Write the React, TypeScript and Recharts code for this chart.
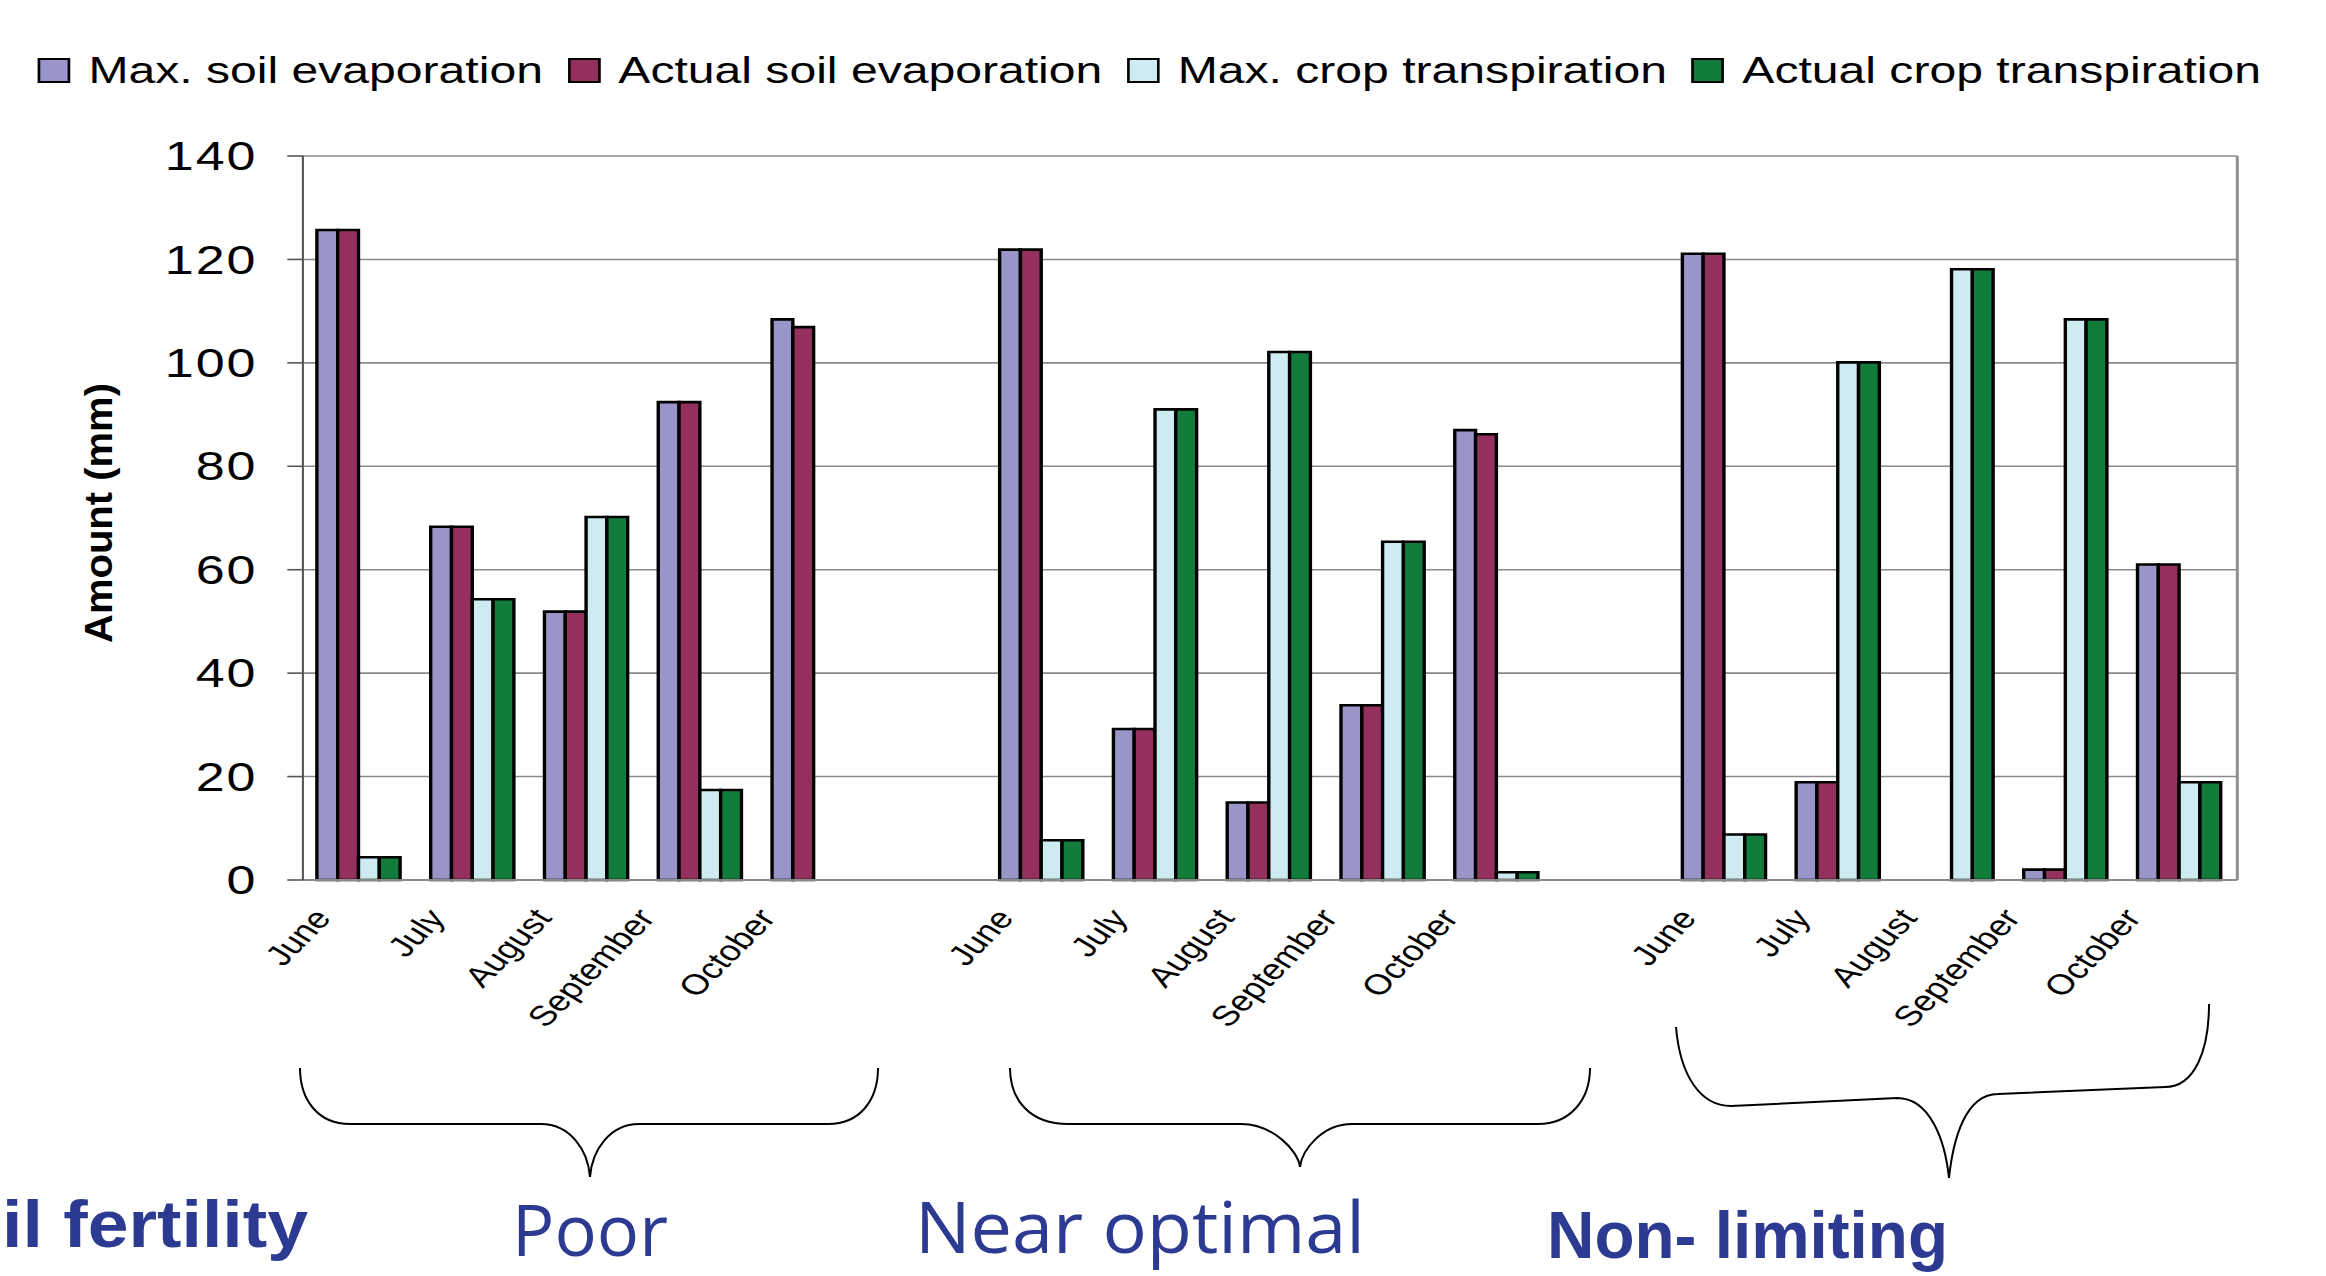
import React from "react";
import { BarChart, Bar, XAxis, YAxis, CartesianGrid, Legend } from "recharts";

// ---- data ----
const months = ["June", "July", "August", "September", "October"];
const fertilityLevels = ["Poor", "Near optimal", "Non- limiting"];
const yTicks = [0, 20, 40, 60, 80, 100, 120, 140];

// values per level: Poor (5 months), Near optimal (5 months), Non-limiting (5 months)
const maxSoilEvaporation = [125.7, 68.3, 51.9, 92.4, 108.4, 121.9, 29.2, 15.0, 33.8, 87.0, 121.1, 18.9, 0, 2.0, 61.0];
const actualSoilEvaporation = [125.7, 68.3, 51.9, 92.4, 106.9, 121.9, 29.2, 15.0, 33.8, 86.2, 121.1, 18.9, 0, 2.0, 61.0];
const maxCropTranspiration = [4.4, 54.3, 70.2, 17.4, 0, 7.7, 91.0, 102.1, 65.4, 1.5, 8.8, 100.1, 118.1, 108.4, 18.9];
const actualCropTranspiration = [4.4, 54.3, 70.2, 17.4, 0, 7.7, 91.0, 102.1, 65.4, 1.5, 8.8, 100.1, 118.1, 108.4, 18.9];

const series = [
  { key: "mse", name: "Max. soil evaporation", color: "#9995C8", values: maxSoilEvaporation },
  { key: "ase", name: "Actual soil evaporation", color: "#94305E", values: actualSoilEvaporation },
  { key: "mct", name: "Max. crop transpiration", color: "#CEEBF1", values: maxCropTranspiration },
  { key: "act", name: "Actual crop transpiration", color: "#127C3C", values: actualCropTranspiration },
];

// table for the chart: 5 months per level, one empty category between levels
const data: any[] = [];
fertilityLevels.forEach((level, g) => {
  months.forEach((m, i) => {
    const row: any = { month: m, level };
    series.forEach((s) => (row[s.key] = s.values[g * months.length + i]));
    data.push(row);
  });
  if (g < fertilityLevels.length - 1) data.push({ month: "", level: "" });
});

const STRETCH = 1.3;
const FONT = "'Liberation Sans', Arial, sans-serif";
const BLUE = "#2D3A92";

const LegendContent = () => (
  <div style={{ display: "flex", alignItems: "center", height: 60, marginLeft: 29, whiteSpace: "nowrap", fontFamily: FONT }}>
    {series.map((s) => (
      <div key={s.key} style={{ display: "flex", alignItems: "center", marginRight: 19 }}>
        <span style={{ display: "inline-block", width: 25, height: 25, background: s.color, border: "2px solid #000", boxSizing: "border-box", marginRight: 14 }} />
        <span style={{ fontSize: 37, lineHeight: "37px", color: "#000" }}>{s.name}</span>
      </div>
    ))}
  </div>
);

const MonthTick = (props: any) => {
  const { x, y, payload } = props;
  if (!payload || !payload.value) return <g />;
  const label = String(payload.value);
  const shift = 27 + Math.max(0, label.length - 4) * 2.7;
  return (
    <g transform={`translate(${x - shift},${y + 34})`}>
      <text x={0} y={0} transform="rotate(-52.4)" textAnchor="end" dominantBaseline="middle" fontSize={28.5} fill="#000" fontFamily={FONT}>
        {label}
      </text>
    </g>
  );
};

const YLabel = (props: any) => {
  const vb = props.viewBox || { x: 0, y: 156, width: 233, height: 724 };
  const cx = vb.x + 76;
  const cy = vb.y + vb.height / 2 - 5;
  return (
    <text x={cx} y={cy} transform={`rotate(-90 ${cx} ${cy})`} textAnchor="middle" dominantBaseline="central" fontSize={30} fontWeight="bold" fontFamily={FONT} fill="#000" textLength={260} lengthAdjust="spacingAndGlyphs">
      Amount (mm)
    </text>
  );
};

export default function App() {
  return (
    <div style={{ position: "absolute", left: 0, top: 0, width: 2326, height: 1276, overflow: "hidden", background: "#fff" }}>
      <div style={{ position: "absolute", left: 0, top: 0, width: 1789, height: 1070, transform: `scaleX(${STRETCH})`, transformOrigin: "0 0", fontFamily: FONT }}>
        <BarChart width={1789} height={1070} data={data} margin={{ top: 96, right: 67, bottom: 40, left: 0 }} barCategoryGap="12.3%" barGap={0}>
          <CartesianGrid horizontal vertical={false} stroke="#8a8a8a" strokeWidth={1.6} />
          <XAxis dataKey="month" interval={0} height={150} tickSize={0} tickMargin={0} tickLine={false} axisLine={{ stroke: "#8a8a8a", strokeWidth: 2 }} tick={<MonthTick />} />
          <YAxis domain={[0, 140]} ticks={yTicks} width={233} tickSize={12} tickMargin={23} axisLine={{ stroke: "#555", strokeWidth: 1.6 }} tickLine={{ stroke: "#555", strokeWidth: 1.6 }} tick={{ fontSize: 40, fill: "#000", fontFamily: FONT, letterSpacing: 1.5 }} label={YLabel} />
          <YAxis yAxisId="right" orientation="right" domain={[0, 140]} width={1} tick={false} tickLine={false} axisLine={{ stroke: "#8f8f8f", strokeWidth: 2.3 }} />
          <Legend verticalAlign="top" align="left" height={60} wrapperStyle={{ top: 40, left: 0 }} content={<LegendContent />} />
          {series.map((s) => (
            <Bar key={s.key} dataKey={s.key} name={s.name} fill={s.color} stroke="#000" strokeWidth={2.6} isAnimationActive={false} />
          ))}
        </BarChart>
      </div>
      <svg width={2326} height={1276} style={{ position: "absolute", left: 0, top: 0, pointerEvents: "none" }}>
        <g fill="none" stroke="#000" strokeWidth={2}>
          <path d="M300,1068 C300,1100 318,1124 350,1124 L541,1124 C570,1124 588,1150 590,1177 C592,1150 610,1124 639,1124 L828,1124 C860,1124 878,1100 878,1068" />
          <path d="M1010,1068 C1010,1100 1030,1124 1068,1124 L1241,1124 C1272,1124 1298,1150 1300,1167 C1302,1150 1322,1124 1352,1124 L1538,1124 C1570,1124 1590,1100 1590,1068" />
          <path d="M1676,1027 C1680,1075 1700,1106 1731,1106 L1897,1098 C1930,1098 1945,1140 1949,1178 C1953,1140 1965,1094 1998,1094 L2165,1087 C2195,1087 2209,1050 2209,1004" />
        </g>
        <text x={2} y={1247} fontSize={66} fontWeight="bold" fill={BLUE} fontFamily={FONT} textLength={306} lengthAdjust="spacingAndGlyphs">il fertility</text>
        <text x={512} y={1256} fontSize={72} fill={BLUE} fontFamily="'Open Sans', 'Noto Sans', sans-serif" textLength={156} lengthAdjust="spacingAndGlyphs">{fertilityLevels[0]}</text>
        <text x={915} y={1253} fontSize={72} fill={BLUE} fontFamily="'Open Sans', 'Noto Sans', sans-serif" textLength={450} lengthAdjust="spacingAndGlyphs">{fertilityLevels[1]}</text>
        <text x={1547} y={1258} fontSize={66} fontWeight="bold" fill={BLUE} fontFamily={FONT} textLength={401} lengthAdjust="spacingAndGlyphs">{fertilityLevels[2]}</text>
      </svg>
    </div>
  );
}
